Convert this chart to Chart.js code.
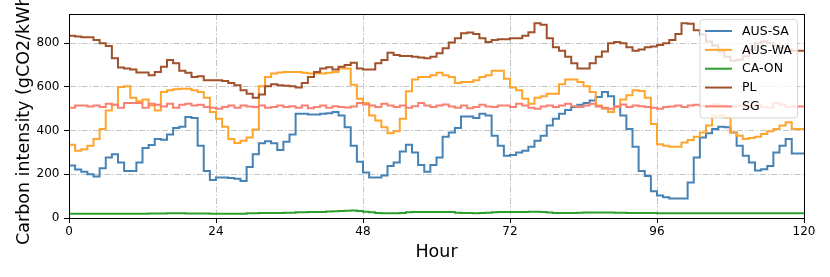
<!DOCTYPE html>
<html>
<head>
<meta charset="utf-8">
<script src="https://cdn.jsdelivr.net/npm/chart.js@4/dist/chart.umd.min.js"></script>
<style>
  html, body { margin: 0; padding: 0; background: #ffffff; }
  #wrap { width: 830px; height: 277px; position: relative; }
</style>
</head>
<body>
<div id="wrap"><canvas id="c" width="830" height="277"></canvas></div>
<script>
// ---- data (hourly values, last entry closes the final step at hour 120) ----
const hours = [];
for (let h = 0; h <= 120; h++) hours.push(h);

const ausSA = [258,240,222,212,200,190,228,277,292,254,215,215,254,320,334,362,358,382,412,418,462,458,331,215,
  174,185,185,183,180,169,234,292,342,351,342,311,349,382,477,477,474,474,477,480,485,469,415,331,
  258,208,185,185,195,238,254,305,335,300,243,212,243,277,372,392,412,465,465,458,477,469,377,331,
  285,289,300,308,326,354,377,423,454,477,495,508,518,526,538,554,577,557,508,469,408,326,215,192,
  123,103,95,89,89,89,162,277,369,388,408,418,415,392,331,285,254,218,223,238,300,331,362,295,295];

const ausWA = [385,335,308,315,331,362,408,492,518,600,603,551,535,542,515,492,577,585,589,592,592,585,577,551,
  485,454,418,362,343,354,369,405,603,646,662,666,669,669,669,665,662,662,662,665,669,685,685,610,
  546,526,469,446,415,388,397,454,580,634,646,646,654,665,654,646,618,623,623,631,646,654,674,674,
  638,597,585,546,523,551,557,569,569,612,634,634,623,603,577,515,500,485,508,542,562,585,582,551,
  430,338,331,326,326,346,357,372,392,423,469,469,460,392,377,362,366,372,385,397,408,423,438,408,408];

const caON = [20,20,20,20,20,20,20,20,20,20,20,20,20,20,21,21,21,22,22,22,21,21,21,21,
  20,20,20,20,20,20,22,22,23,23,23,23,24,24,26,26,27,27,28,30,31,32,33,34,
  32,29,26,23,22,22,22,23,26,27,28,28,28,28,28,27,24,23,23,22,23,24,26,27,
  28,28,28,28,29,29,28,25,23,23,23,23,24,25,25,25,25,25,24,24,23,23,23,23,
  23,22,22,22,22,22,22,22,22,22,22,22,22,22,22,22,22,22,22,22,22,22,22,22,22];

const pl = [837,834,831,828,828,815,800,788,731,689,685,680,666,666,654,669,692,723,708,674,665,646,649,631,
  631,631,627,618,608,585,569,551,566,603,612,608,605,603,597,618,646,669,685,690,680,692,700,711,
  685,680,680,708,723,757,746,742,742,738,735,731,738,754,777,803,823,846,849,843,823,806,815,818,
  818,823,823,834,850,892,885,823,782,766,738,708,685,685,708,738,762,800,806,800,782,766,772,782,
  785,792,800,815,843,892,889,860,840,808,790,762,738,720,725,740,770,800,808,800,790,780,772,766,766];

const sg = [511,505,515,515,511,515,508,523,518,505,526,526,526,505,523,518,511,523,505,518,523,515,518,508,
  505,500,508,515,505,515,511,508,515,505,508,515,508,512,505,515,503,508,515,505,512,508,506,510,
  526,520,515,508,523,515,508,515,505,512,526,515,508,515,520,510,505,515,503,508,518,510,508,515,
  515,508,523,515,505,500,510,515,508,515,523,512,508,515,523,510,505,500,512,520,508,515,512,508,
  505,500,508,511,515,508,515,518,512,515,520,515,512,508,515,510,512,520,508,505,526,520,508,511,511];

const seriesNames = ['AUS-SA', 'AUS-WA', 'CA-ON', 'PL', 'SG'];
const xTickValues = [0, 24, 48, 72, 96, 120];
const yTickValues = [0, 200, 400, 600, 800];

// ---- styling ----
const colors = ['#4682b4', '#ffa52c', '#2ca02c', '#a0522d', '#fa8072'];
const allSeries = [ausSA, ausWA, caON, pl, sg];
const FONT = "'DejaVu Sans', sans-serif";

const datasets = allSeries.map((vals, i) => ({
  label: seriesNames[i],
  data: hours.map((h, k) => ({ x: h, y: vals[k] })),
  borderColor: colors[i],
  backgroundColor: colors[i],
  borderWidth: 2,
  pointRadius: 0,
  stepped: 'after',
  tension: 0,
  fill: false,
  order: allSeries.length - i
}));

const decor = {
  id: 'decor',
  afterDatasetsDraw(chart) {
    const { ctx, chartArea: a } = chart;
    ctx.save();
    // frame (all four spines)
    ctx.strokeStyle = '#000';
    ctx.lineWidth = 1;
    ctx.strokeRect(Math.round(a.left) + 0.5, Math.round(a.top) + 0.5,
      Math.round(a.right) - Math.round(a.left), Math.round(a.bottom) - Math.round(a.top));

    // legend
    const bx = 700, by = 19.5, bw = 97.5, bh = 98.5, r = 3;
    ctx.beginPath();
    ctx.moveTo(bx + r, by);
    ctx.lineTo(bx + bw - r, by);
    ctx.quadraticCurveTo(bx + bw, by, bx + bw, by + r);
    ctx.lineTo(bx + bw, by + bh - r);
    ctx.quadraticCurveTo(bx + bw, by + bh, bx + bw - r, by + bh);
    ctx.lineTo(bx + r, by + bh);
    ctx.quadraticCurveTo(bx, by + bh, bx, by + bh - r);
    ctx.lineTo(bx, by + r);
    ctx.quadraticCurveTo(bx, by, bx + r, by);
    ctx.closePath();
    ctx.fillStyle = 'rgba(255,255,255,0.8)';
    ctx.fill();
    ctx.strokeStyle = '#d6d6d6';
    ctx.lineWidth = 1;
    ctx.stroke();

    ctx.font = '12.5px ' + FONT;
    ctx.textBaseline = 'middle';
    ctx.textAlign = 'left';
    seriesNames.forEach((name, i) => {
      const y = 31 + i * 18.85;
      ctx.strokeStyle = colors[i];
      ctx.lineWidth = 2;
      ctx.beginPath();
      ctx.moveTo(705, y);
      ctx.lineTo(732, y);
      ctx.stroke();
      ctx.fillStyle = '#000';
      ctx.fillText(name, 742, y + 0.5);
    });

    // axis titles
    ctx.fillStyle = '#000';
    ctx.font = '17.5px ' + FONT;
    ctx.textAlign = 'center';
    ctx.textBaseline = 'alphabetic';
    ctx.fillText('Hour', (a.left + a.right) / 2, 256.5);

    ctx.save();
    ctx.translate(29, 245);
    ctx.rotate(-Math.PI / 2);
    ctx.textAlign = 'left';
    ctx.fillText('Carbon intensity (gCO2/kWh)', 0, 0);
    ctx.restore();

    ctx.restore();
  }
};

new Chart(document.getElementById('c'), {
  type: 'line',
  data: { datasets },
  options: {
    responsive: false,
    animation: false,
    devicePixelRatio: 1,
    layout: { padding: { top: 14, right: 26, left: 0, bottom: 0 } },
    plugins: { legend: { display: false }, tooltip: { enabled: false } },
    scales: {
      x: {
        type: 'linear',
        min: 0,
        max: 120,
        afterBuildTicks: s => { s.ticks = xTickValues.map(v => ({ value: v })); },
        afterFit: s => { s.height = 59; },
        ticks: { color: '#000', font: { family: FONT, size: 12 }, padding: 2, maxRotation: 0, autoSkip: false },
        grid: { color: '#c4c4c4', lineWidth: 1, drawTicks: true, tickLength: 5, tickColor: '#000', tickWidth: 1 },
        border: { display: true, color: '#000', width: 1, dash: [6, 2, 1.5, 2] }
      },
      y: {
        type: 'linear',
        min: 0,
        max: 934,
        afterBuildTicks: s => { s.ticks = yTickValues.map(v => ({ value: v })); },
        afterFit: s => { s.width = 69; },
        ticks: { color: '#000', font: { family: FONT, size: 12 }, padding: 4.5, autoSkip: false },
        grid: { color: '#c4c4c4', lineWidth: 1, drawTicks: true, tickLength: 5, tickColor: '#000', tickWidth: 1 },
        border: { display: true, color: '#000', width: 1, dash: [6, 2, 1.5, 2] }
      }
    }
  },
  plugins: [decor]
});
</script>
</body>
</html>
